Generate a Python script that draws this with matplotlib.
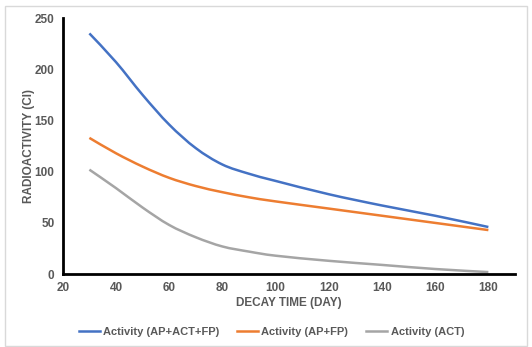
import matplotlib.pyplot as plt
from matplotlib.patches import Rectangle, PathPatch
from matplotlib.path import Path
from matplotlib.lines import Line2D

# values
days = [30, 40, 50, 60, 70, 80, 90, 100, 120, 140, 160, 180]
act_all = [235, 207, 175, 146, 123, 107, 98, 91, 78, 67, 57, 46]
act_ap_fp = [133, 118, 105, 94, 86, 80, 75, 71, 64, 57, 50, 43]
act_act = [102, 84, 65, 48, 36, 27, 22, 18, 13, 9, 5, 2]
labels = ["Activity (AP+ACT+FP)", "Activity (AP+FP)", "Activity (ACT)"]
colors = ["#4472C4", "#ED7D31", "#A5A5A5"]

plt.rcParams['font.family'] = ['Liberation Sans', 'DejaVu Sans']
txt = "#595959"


def smooth_path(xs, ys):
    # excel-like smoothed line: cubic bezier through the points
    pts = list(zip(xs, ys))
    n = len(pts)
    verts = [pts[0]]
    codes = [Path.MOVETO]
    for i in range(n - 1):
        p0 = pts[max(i - 1, 0)]
        p1 = pts[i]
        p2 = pts[i + 1]
        p3 = pts[min(i + 2, n - 1)]
        c1 = (p1[0] + (p2[0] - p0[0]) / 6, p1[1] + (p2[1] - p0[1]) / 6)
        c2 = (p2[0] - (p3[0] - p1[0]) / 6, p2[1] - (p3[1] - p1[1]) / 6)
        verts += [c1, c2, p2]
        codes += [Path.CURVE4] * 3
    return Path(verts, codes)


fig = plt.figure(figsize=(5.32, 3.47), dpi=100)
ax = fig.add_axes([0.118, 0.21, 0.850, 0.738])

handles = []
for y, lab, c in zip([act_all, act_ap_fp, act_act], labels, colors):
    ax.add_patch(PathPatch(smooth_path(days, y), facecolor='none',
                           edgecolor=c, lw=1.8, capstyle='butt'))
    handles.append(Line2D([], [], color=c, lw=1.8, label=lab))

ax.set_xlim(20, 190)
ax.set_ylim(0, 250)
ax.set_xticks(range(20, 181, 20))
ax.set_yticks(range(0, 251, 50))
ax.tick_params(length=0, labelsize=8.5, labelcolor=txt, pad=6)
for t in ax.get_xticklabels() + ax.get_yticklabels():
    t.set_fontweight('bold')

for s in ['top', 'right']:
    ax.spines[s].set_visible(False)
for s in ['left', 'bottom']:
    ax.spines[s].set_linewidth(2)
    ax.spines[s].set_color('black')

ax.set_xlabel("DECAY TIME (DAY)", fontsize=8.5, fontweight='bold', color=txt, labelpad=2)
ax.set_ylabel("RADIOACTIVITY (CI)", fontsize=8.5, fontweight='bold', color=txt, labelpad=0)

fig.legend(handles=handles, loc='center', bbox_to_anchor=(0.51, 0.043), ncol=3,
           frameon=False, handlelength=1.9, handletextpad=0.3, columnspacing=1.6,
           labelcolor=txt, prop={'weight': 'bold', 'size': 8})

# light outer border
fig.patches.append(Rectangle((5 / 532, 1 / 347), 522 / 532, 340 / 347,
                             transform=fig.transFigure, fill=False,
                             edgecolor='#d9d9d9', lw=1))

fig.savefig("out.png", dpi=100)
